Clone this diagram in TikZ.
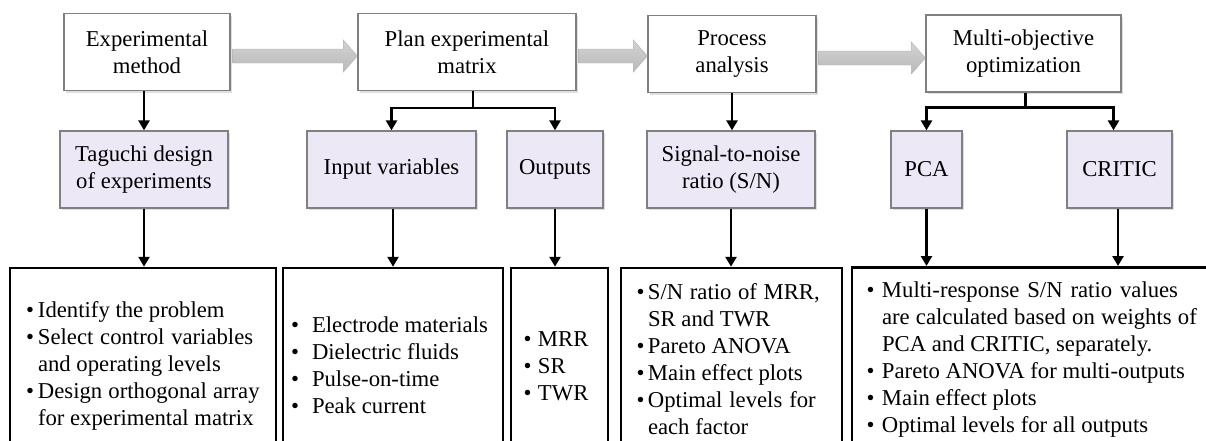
\documentclass[tikz,border=0pt]{standalone}
\usepackage{fontspec}
\setmainfont{Liberation Serif}
\usetikzlibrary{arrows.meta,calc,shadows}

\definecolor{boxgray}{RGB}{128,128,128}
\definecolor{boxlilac}{RGB}{237,232,246}

% bullet line with a hanging indent
\newcommand{\bitem}[1][10pt]{\par\hangindent=#1\hangafter=1\noindent\makebox[#1][l]{\textbullet}}

% wide grey arrow between two stages
\newcommand{\blockarrow}[2]{%
  \shade[draw=gray!60, top color=gray!35, middle color=gray!78, bottom color=gray!55]
    let \p1=(#1.east), \p2=(#2.west) in
    (\x1+2pt,\y1+3pt) -- (\x2-14pt,\y1+3pt) -- (\x2-14pt,\y1+12pt) -- (\x2,\y1-4pt)
    -- (\x2-14pt,\y1-20pt) -- (\x2-14pt,\y1-11pt) -- (\x1+2pt,\y1-11pt) -- cycle;}

\begin{document}
\begin{tikzpicture}[
                x=1pt, y=-1pt,
                every node/.style={font=\fontsize{22.7}{27}\selectfont},
                stage/.style={draw=boxgray, line width=1.3pt, fill=white, align=center,
                    minimum height=77pt,
                    drop shadow={opacity=0.25, shadow xshift=2pt, shadow yshift=-2pt}},
                method/.style={stage, fill=boxlilac},
                result/.style={draw, line width=2.5pt, minimum height=184pt,
                    execute at begin node={\spaceskip=5.7pt plus 4pt minus 2.5pt}},
                arrow/.style={line width=2.6pt, -{Triangle[width=11pt,length=10pt]}}
            ]

            \useasboundingbox (0,0) rectangle (1206,440);
            \clip (0,0) rectangle (1206,440);

            % stages
            \node[stage, minimum width=166pt] (exp) at (147,52) {Experimental\\method};
            \node[stage, minimum width=218pt] (plan) at (467,52) {Plan experimental\\matrix};
            \node[stage, minimum width=168pt] (proc) at (732,54) {Process\\analysis};
            \node[stage, minimum width=195pt] (multi) at (1023.5,53.5) {Multi-objective\\optimization};

            % methods
            \node[method, minimum width=168pt] (tag) at (144,169.5) {Taguchi design\\of experiments};
            \node[method, minimum width=169pt] (inp) at (391.5,169.5) {Input variables};
            \node[method, minimum width=96pt] (out) at (555,169.5) {Outputs};
            \node[method, minimum width=168pt] (sn) at (731,169.5) {Signal-to-noise\\ratio (S/N)};
            \node[method, minimum width=71pt] (pca) at (926.5,169.5) {PCA};
            \node[method, minimum width=105pt] (crit) at (1119.5,169.5) {CRITIC};

            % results
            \node[result, text width=244pt, inner xsep=11pt] (steps) at (143,360)
                {\leftskip=5pt
                 \bitem[12pt]Identify the problem
                 \bitem[12pt]Select control variables\linebreak and operating levels
                 \bitem[12pt]Design orthogonal array\linebreak for experimental matrix\par};
            \node[result, text width=204pt, inner xsep=8pt] (vars) at (393,360)
                {\bitem[21pt]Electrode materials
                 \bitem[21pt]Dielectric fluids
                 \bitem[21pt]Pulse-on-time
                 \bitem[21pt]Peak current\par};
            \node[result, text width=72pt, inner xsep=12.5pt] (resp) at (559.5,360)
                {\bitem[14.5pt]MRR
                 \bitem[14.5pt]SR
                 \bitem[14.5pt]TWR\par};
            \node[result, text width=197pt, inner xsep=12pt] (snlist) at (731.5,360)
                {\leftskip=3.5pt
                 \bitem[11.5pt]S/N ratio of MRR,\linebreak SR and TWR
                 \bitem[11.5pt]Pareto ANOVA
                 \bitem[11.5pt]Main effect plots
                 \bitem[11.5pt]Optimal levels for\linebreak each factor\par\kern12pt};
            \node[result, text width=339pt, inner xsep=12pt] (optlist) at (1033.5,360)
                {\leftskip=2.5pt
                 \bitem[15.5pt]Multi-response S/N ratio values\linebreak are calculated based on weights of\linebreak PCA and CRITIC, separately.
                 \bitem[15.5pt]Pareto ANOVA for multi-outputs
                 \bitem[15.5pt]Main effect plots
                 \bitem[15.5pt]Optimal levels for all outputs\par\kern12pt};

            % flow between stages
            \blockarrow{exp}{plan}
            \blockarrow{plan}{proc}
            \blockarrow{proc}{multi}

            % stage to method
            \coordinate (planfork) at ([xshift=6pt,yshift=-17pt]plan.south);
            \coordinate (multifork) at ([xshift=2pt,yshift=-15pt]multi.south);
            \draw[arrow] (tag.north |- exp.south) -- (tag.north);
            \draw[line width=2.6pt] (planfork |- plan.south) -- (planfork);
            \draw[arrow] (planfork) -| (inp.north);
            \draw[arrow] (planfork) -| (out.north);
            \draw[arrow] (proc.south) -- (proc.south |- sn.north);
            \draw[line width=2.6pt] (multifork |- multi.south) -- (multifork);
            \draw[arrow] (multifork) -| (pca.north);
            \draw[arrow] (multifork) -| ([xshift=-6pt]crit.north);

            % method to result
            \draw[arrow] (tag.south) -- (tag.south |- steps.north);
            \draw[arrow] ([xshift=1.5pt]inp.south) -- ([xshift=1.5pt]inp.south |- vars.north);
            \draw[arrow] (out.south) -- (out.south |- resp.north);
            \draw[arrow] (sn.south) -- (sn.south |- snlist.north);
            \draw[arrow] (pca.south) -- (pca.south |- optlist.north);
            \draw[arrow] ([xshift=-1.5pt]crit.south) -- ([xshift=-1.5pt]crit.south |- optlist.north);

        \end{tikzpicture}
\end{document}
